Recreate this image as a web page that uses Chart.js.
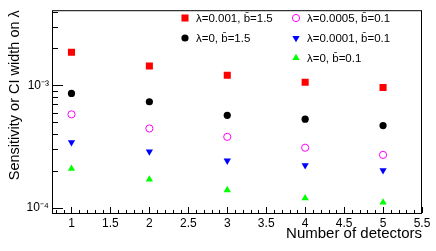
<!DOCTYPE html>
<html>
<head>
<meta charset="utf-8">
<script src="https://cdn.jsdelivr.net/npm/chart.js@4"></script>
<style>
  html, body { margin: 0; padding: 0; background: #fff; }
  #wrap { width: 436px; height: 251px; }
</style>
</head>
<body>
<div id="wrap"><canvas id="c"></canvas></div>
<script>
// ── data ──────────────────────────────────────────────────
const detectors = [1, 2, 3, 4, 5];
const lam001b15 = [1.86e-3, 1.44e-3, 1.21e-3, 1.06e-3, 9.6e-4];
const lam0b15 = [8.6e-4, 7.35e-4, 5.7e-4, 5.3e-4, 4.7e-4];
const lam0005b01 = [5.8e-4, 4.45e-4, 3.8e-4, 3.1e-4, 2.71e-4];
const lam0001b01 = [3.43e-4, 2.88e-4, 2.43e-4, 2.23e-4, 2.03e-4];
const lam0b01 = [2.09e-4, 1.71e-4, 1.40e-4, 1.20e-4, 1.11e-4];

const seriesLabels = [
  "λ=0.001, b̄=1.5",
  "λ=0, b̄=1.5",
  "λ=0.0005, b̄=0.1",
  "λ=0.0001, b̄=0.1",
  "λ=0, b̄=0.1",
];

const xTicks = [1, 1.5, 2, 2.5, 3, 3.5, 4, 4.5, 5, 5.5];
const yTicks = [1e-4, 1e-3];
const yTickLabels = ["10⁻⁴", "10⁻³"];

const FONT = "'Liberation Sans', Arial, sans-serif";

const pts = (ys) => detectors.map((x, i) => ({ x, y: ys[i] }));

// ROOT-like frame with inward ticks + two-column legend
const rootFrame = {
  id: "rootFrame",
  afterDraw(chart) {
    const { ctx, chartArea: a, scales } = chart;
    const xs = scales.x, ys = scales.y;
    ctx.save();
    ctx.strokeStyle = "#000";
    ctx.lineWidth = 1;
    ctx.strokeRect(a.left + 0.5, a.top + 0.5, a.right - a.left - 1, a.bottom - a.top);

    ctx.beginPath();
    // x ticks, every 0.1, major every 0.5
    for (let i = 8; i <= 55; i++) {
      const px = Math.round(xs.getPixelForValue(i / 10)) + 0.5;
      const len = i % 5 === 0 ? 6 : 3;
      ctx.moveTo(px, a.bottom);
      ctx.lineTo(px, a.bottom - len);
    }
    // y ticks on log scale
    for (let e = -5; e <= -3; e++) {
      for (let m = 1; m <= 9; m++) {
        const v = m * Math.pow(10, e);
        if (v < ys.min || v > ys.max) continue;
        const py = Math.round(ys.getPixelForValue(v)) + 0.5;
        const len = m === 1 ? 11 : 6;
        ctx.moveTo(a.left, py);
        ctx.lineTo(a.left + len, py);
      }
    }
    ctx.stroke();

    // legend: two columns, markers then labels
    const slots = [
      [185, 18], [185, 38],
      [296, 18], [296, 38], [296, 58],
    ];
    ctx.font = "11.5px " + FONT;
    ctx.textBaseline = "middle";
    chart.data.datasets.forEach((ds, i) => {
      const [mx, my] = slots[i];
      ctx.save();
      ctx.fillStyle = ds.backgroundColor;
      ctx.strokeStyle = ds.borderColor;
      ctx.lineWidth = ds.borderWidth;
      Chart.helpers.drawPoint(ctx, {
        pointStyle: ds.pointStyle,
        radius: ds.pointRadius,
        rotation: ds.rotation || 0,
        borderWidth: ds.borderWidth,
      }, mx, my);
      ctx.restore();
      ctx.fillStyle = "#000";
      ctx.fillText(ds.label, mx + 11, my + 1);
    });
    ctx.restore();
  },
};

new Chart(document.getElementById("c"), {
  type: "scatter",
  data: {
    datasets: [
      { label: seriesLabels[0], data: pts(lam001b15), pointStyle: "rect", pointRadius: 5,
        backgroundColor: "#ff0000", borderColor: "#ff0000", borderWidth: 0 },
      { label: seriesLabels[1], data: pts(lam0b15), pointStyle: "circle", pointRadius: 3.6,
        backgroundColor: "#000000", borderColor: "#000000", borderWidth: 0 },
      { label: seriesLabels[2], data: pts(lam0005b01), pointStyle: "circle", pointRadius: 3.6,
        backgroundColor: "rgba(0,0,0,0)", borderColor: "#ff00ff", borderWidth: 1 },
      { label: seriesLabels[3], data: pts(lam0001b01), pointStyle: "triangle", pointRadius: 4.2,
        rotation: 180, backgroundColor: "#0000ff", borderColor: "#0000ff", borderWidth: 0 },
      { label: seriesLabels[4], data: pts(lam0b01), pointStyle: "triangle", pointRadius: 4.2,
        backgroundColor: "#00ff00", borderColor: "#00ff00", borderWidth: 0 },
    ],
  },
  options: {
    responsive: true,
    maintainAspectRatio: false,
    animation: false,
    layout: { padding: { top: 3, right: 14, left: 0, bottom: 0 } },
    plugins: {
      legend: { display: false },
      tooltip: { enabled: false },
    },
    scales: {
      x: {
        type: "linear",
        min: 0.75,
        max: 5.5,
        grid: { display: false, drawTicks: false },
        border: { display: false },
        afterBuildTicks: (s) => { s.ticks = xTicks.map((v) => ({ value: v })); },
        afterFit: (s) => { s.height = 38; },
        ticks: {
          color: "#000",
          font: { family: FONT, size: 12 },
          padding: 3,
          maxRotation: 0,
          autoSkip: false,
          callback: (v) => String(v),
        },
        title: {
          display: true,
          text: "Number of detectors",
          align: "end",
          color: "#000",
          font: { family: FONT, size: 15 },
          padding: { top: 0, bottom: 8 },
        },
      },
      y: {
        type: "logarithmic",
        min: 9.1e-5,
        max: 4.1e-3,
        grid: { display: false, drawTicks: false },
        border: { display: false },
        afterBuildTicks: (s) => { s.ticks = yTicks.map((v) => ({ value: v })); },
        afterFit: (s) => { s.width = 52; },
        ticks: {
          color: "#000",
          font: { family: FONT, size: 12 },
          padding: 3,
          autoSkip: false,
          callback: (v) => yTickLabels[yTicks.indexOf(v)] ?? "",
        },
        title: {
          display: true,
          text: "Sensitivity or CI width on λ",
          align: "end",
          color: "#000",
          font: { family: FONT, size: 14.5 },
          padding: { top: 6, bottom: 0 },
        },
      },
    },
  },
  plugins: [rootFrame],
});
</script>
</body>
</html>
